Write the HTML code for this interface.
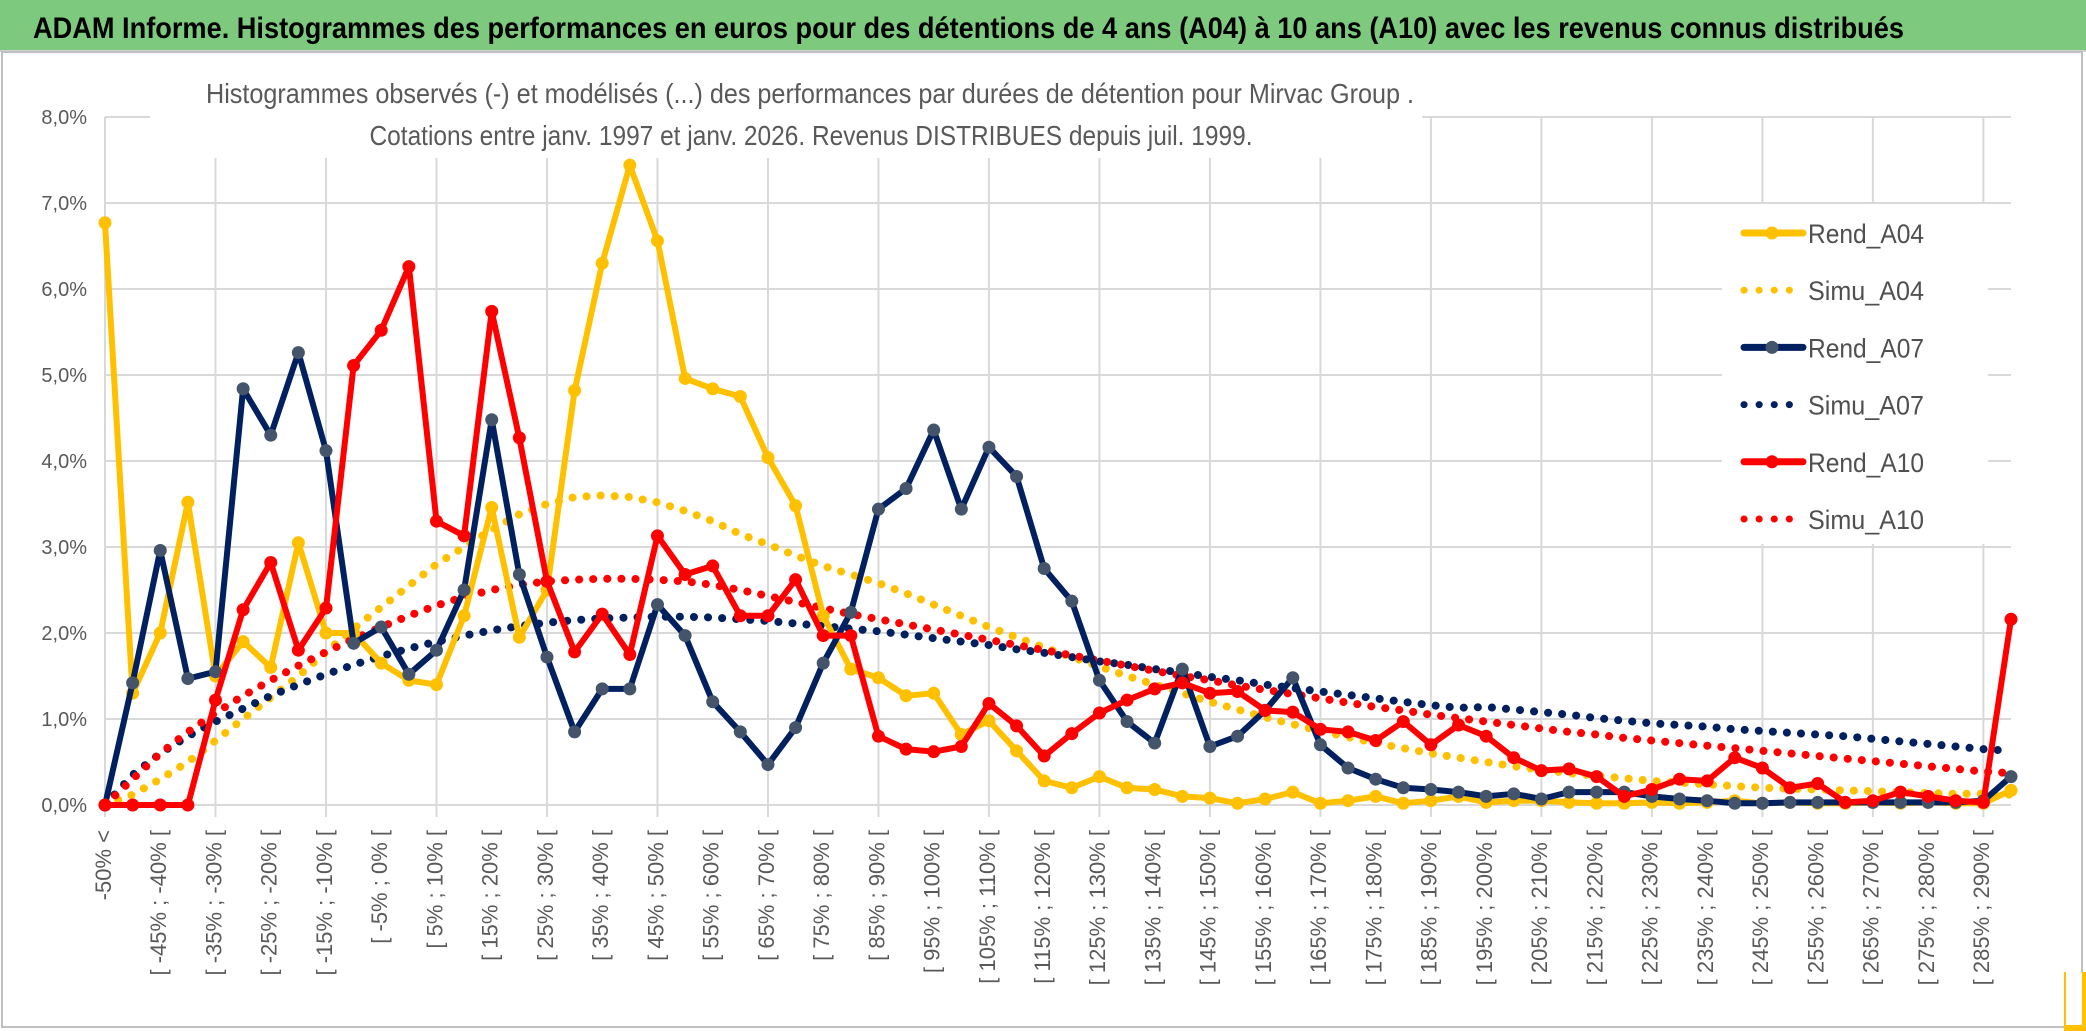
<!DOCTYPE html>
<html><head><meta charset="utf-8"><style>
html,body{margin:0;padding:0;background:#fff;}
svg{display:block;font-family:"Liberation Sans",sans-serif;}
</style></head><body>
<svg id="chart" width="2086" height="1031" viewBox="0 0 2086 1031" xmlns="http://www.w3.org/2000/svg">
<rect x="0" y="0" width="2086" height="1031" fill="#fff"/>
<rect x="0" y="0" width="2086" height="50" fill="#7dc97d"/>
<line x1="0" y1="51" x2="2086" y2="51" stroke="#d0d0d0" stroke-width="2"/>
<text x="33" y="38" font-family="'Liberation Sans Narrow','Liberation Sans',sans-serif" font-weight="bold" font-size="30" fill="#000" textLength="1871" lengthAdjust="spacingAndGlyphs">ADAM Informe. Histogrammes des performances en euros pour des détentions de 4 ans (A04) à 10 ans (A10) avec les revenus connus distribués</text>
<rect x="2" y="52" width="2080" height="975" fill="none" stroke="#bfbfbf" stroke-width="2"/>
<rect x="2064" y="972" width="22" height="59" fill="#ffc000"/>
<rect x="2066" y="972" width="16" height="53" fill="#fff"/>
<g id="grid"></g>
<rect x="150" y="62" width="1272" height="96" fill="#fff"/>
<rect x="1722" y="204" width="266" height="340" fill="#fff"/>
<text x="810" y="103" text-anchor="middle" font-size="28" font-weight="500" fill="#595959" textLength="1208" lengthAdjust="spacingAndGlyphs">Histogrammes observés (-) et modélisés (...) des performances par durées de détention pour Mirvac Group .</text>
<text x="811" y="145" text-anchor="middle" font-size="28" font-weight="500" fill="#595959" textLength="883" lengthAdjust="spacingAndGlyphs">Cotations entre janv. 1997 et janv. 2026. Revenus DISTRIBUES depuis juil. 1999.</text>
<g id="yaxis"></g>
<g id="xaxis"></g>
<g id="series"></g>
<g id="legend"></g>
</svg>
<script>
const rendA04 = [6.77,1.3,2.0,3.52,1.5,1.9,1.6,3.05,2.0,2.0,1.65,1.45,1.4,2.2,3.46,1.95,2.5,4.82,6.3,7.44,6.56,4.96,4.84,4.75,4.04,3.48,2.2,1.58,1.48,1.27,1.3,0.82,0.98,0.63,0.28,0.2,0.33,0.2,0.18,0.1,0.08,0.02,0.07,0.15,0.02,0.05,0.1,0.02,0.05,0.1,0.03,0.05,0.05,0.03,0.02,0.02,0.03,0.02,0.03,0.05,0.02,0.03,0.02,0.02,0.03,0.02,0.03,0.02,0.02,0.17];
const rendA07 = [0.0,1.42,2.96,1.47,1.55,4.84,4.3,5.26,4.12,1.88,2.07,1.52,1.8,2.5,4.48,2.68,1.72,0.85,1.35,1.35,2.33,1.97,1.2,0.85,0.47,0.9,1.65,2.24,3.44,3.68,4.36,3.44,4.16,3.82,2.75,2.37,1.45,0.97,0.72,1.58,0.68,0.8,1.1,1.48,0.7,0.43,0.3,0.2,0.18,0.15,0.1,0.13,0.07,0.15,0.15,0.15,0.1,0.07,0.05,0.02,0.02,0.03,0.03,0.03,0.03,0.03,0.03,0.03,0.05,0.33];
const rendA10 = [0,0,0,0,1.22,2.27,2.82,1.8,2.29,5.11,5.52,6.26,3.3,3.13,5.74,4.27,2.6,1.78,2.22,1.75,3.13,2.68,2.78,2.2,2.2,2.62,1.97,1.97,0.8,0.65,0.62,0.68,1.18,0.92,0.57,0.83,1.07,1.22,1.35,1.42,1.3,1.32,1.1,1.08,0.88,0.85,0.75,0.97,0.7,0.93,0.8,0.55,0.4,0.42,0.33,0.1,0.18,0.3,0.28,0.55,0.43,0.2,0.25,0.03,0.05,0.15,0.1,0.05,0.03,2.16];
const simuA04 = [0,0.12,0.3,0.5,0.75,1.0,1.25,1.5,1.78,2.05,2.3,2.55,2.8,3.0,3.2,3.38,3.5,3.58,3.6,3.58,3.52,3.42,3.3,3.15,3.03,2.9,2.78,2.68,2.58,2.46,2.33,2.2,2.07,1.95,1.83,1.72,1.61,1.5,1.4,1.3,1.2,1.11,1.02,0.94,0.86,0.79,0.72,0.66,0.6,0.55,0.5,0.45,0.41,0.37,0.34,0.31,0.28,0.26,0.24,0.22,0.2,0.19,0.18,0.17,0.16,0.15,0.14,0.13,0.13,0.12];
const simuA07 = [0,0.35,0.6,0.8,0.97,1.12,1.27,1.4,1.52,1.63,1.73,1.82,1.9,1.97,2.03,2.08,2.12,2.15,2.17,2.18,2.19,2.19,2.18,2.16,2.14,2.11,2.08,2.05,2.02,1.98,1.94,1.9,1.86,1.81,1.77,1.72,1.67,1.63,1.58,1.54,1.49,1.45,1.4,1.36,1.32,1.28,1.24,1.2,1.16,1.13,1.14,1.11,1.08,1.05,1.01,0.98,0.95,0.93,0.91,0.88,0.86,0.84,0.82,0.8,0.77,0.74,0.71,0.68,0.65,0.63];
const simuA10 = [0,0.3,0.6,0.85,1.07,1.27,1.45,1.62,1.78,1.93,2.07,2.2,2.32,2.42,2.5,2.56,2.6,2.62,2.63,2.63,2.62,2.6,2.56,2.5,2.43,2.36,2.29,2.22,2.16,2.1,2.04,1.98,1.92,1.86,1.8,1.74,1.68,1.62,1.56,1.5,1.45,1.39,1.34,1.29,1.24,1.19,1.14,1.1,1.05,1.01,0.97,0.93,0.89,0.85,0.82,0.78,0.75,0.72,0.69,0.66,0.63,0.6,0.57,0.54,0.51,0.48,0.45,0.42,0.39,0.37];
const yTicks = [0,1,2,3,4,5,6,7,8];
const yTickLabels = ["0,0%","1,0%","2,0%","3,0%","4,0%","5,0%","6,0%","7,0%","8,0%"];
const categories = ["-50% <"];
for (let i = 1; i < 70; i++) { categories.push("[ " + (-55 + 5 * i) + "% ; " + (-50 + 5 * i) + "% ["); }

const NS = "http://www.w3.org/2000/svg";
const X0 = 105, X1 = 2011, Y0 = 805, YTOP = 117;
function xPos(i) { return X0 + (X1 - X0) * i / (categories.length - 1); }
function yPos(v) { return Y0 - (Y0 - YTOP) * v / 8; }
function mk(tag, attrs, parent) { const e = document.createElementNS(NS, tag); for (const k in attrs) e.setAttribute(k, attrs[k]); parent.appendChild(e); return e; }

const grid = document.getElementById('grid');
yTicks.forEach(function (t) {
  const l = mk('line', {x1: X0, x2: X1, y1: yPos(t), y2: yPos(t), stroke: '#d9d9d9', 'stroke-width': 2}, grid);
  
  
});
for (let i = 0; i < categories.length; i += 4) {
  const l = mk('line', {x1: xPos(i), x2: xPos(i), y1: yPos(8), y2: Y0 + 12, stroke: '#d9d9d9', 'stroke-width': 2}, grid);
  
  
}
const yaxis = document.getElementById('yaxis');
yTicks.forEach(function (t, k) {
  const tx = mk('text', {x: 87, y: yPos(t) + 7, 'text-anchor': 'end', 'font-size': 20, fill: '#595959'}, yaxis);
  tx.textContent = yTickLabels[k];
  
  
});
const xaxis = document.getElementById('xaxis');
for (let i = 0; i < categories.length; i += 2) {
  const x = xPos(i), y = 830;
  const tx = mk('text', {x: x, y: y, 'text-anchor': 'end', 'font-size': 22, fill: '#595959', 'dominant-baseline': 'middle', transform: 'rotate(-90 ' + x + ' ' + y + ')'}, xaxis);
  tx.textContent = categories[i];
  
  
}

const series = document.getElementById('series');
function pts(arr) { return arr.map(function (v, i) { return xPos(i).toFixed(1) + ',' + yPos(v).toFixed(1); }).join(' '); }
function dotted(arr, color, name) {
  const p = mk('polyline', {points: pts(arr), fill: 'none', stroke: color, 'stroke-width': 8, 'stroke-linecap': 'round', 'stroke-dasharray': '0.1 14'}, series);
  
  
}
function solid(arr, color, mcolor, name) {
  const g = mk('g', {}, series);
  
  
  mk('polyline', {points: pts(arr), fill: 'none', stroke: color, 'stroke-width': 6, 'stroke-linejoin': 'round'}, g);
  arr.forEach(function (v, i) {
    const c = mk('circle', {cx: xPos(i), cy: yPos(v), r: 6.5, fill: mcolor}, g);
    
    
  });
}
dotted(simuA04, '#ffc000', 'simu-a04-line');
dotted(simuA07, '#002060', 'simu-a07-line');
dotted(simuA10, '#ff0000', 'simu-a10-line');
solid(rendA04, '#ffc000', '#ffc000', 'rend-a04-line');
solid(rendA07, '#002060', '#44546a', 'rend-a07-line');
solid(rendA10, '#ff0000', '#ff0000', 'rend-a10-line');

const legend = document.getElementById('legend');
const legendItems = [
  ['Rend_A04', '#ffc000', '#ffc000', false],
  ['Simu_A04', '#ffc000', null, true],
  ['Rend_A07', '#002060', '#44546a', false],
  ['Simu_A07', '#002060', null, true],
  ['Rend_A10', '#ff0000', '#ff0000', false],
  ['Simu_A10', '#ff0000', null, true]
];
legendItems.forEach(function (it, k) {
  const y = 233 + k * 57.2;
  const g = mk('g', {}, legend);
  
  
  if (it[3]) {
    mk('line', {x1: 1744, x2: 1804, y1: y, y2: y, stroke: it[1], 'stroke-width': 7, 'stroke-linecap': 'round', 'stroke-dasharray': '0.1 15'}, g);
  } else {
    mk('line', {x1: 1744, x2: 1803, y1: y, y2: y, stroke: it[1], 'stroke-width': 7, 'stroke-linecap': 'round'}, g);
    mk('circle', {cx: 1772, cy: y, r: 6.5, fill: it[2]}, g);
  }
  const t = mk('text', {x: 1808, y: y + 10, 'font-size': 27, fill: '#505050', textLength: 116, lengthAdjust: 'spacingAndGlyphs'}, g);
  t.textContent = it[0];
});
</script>
</body></html>
